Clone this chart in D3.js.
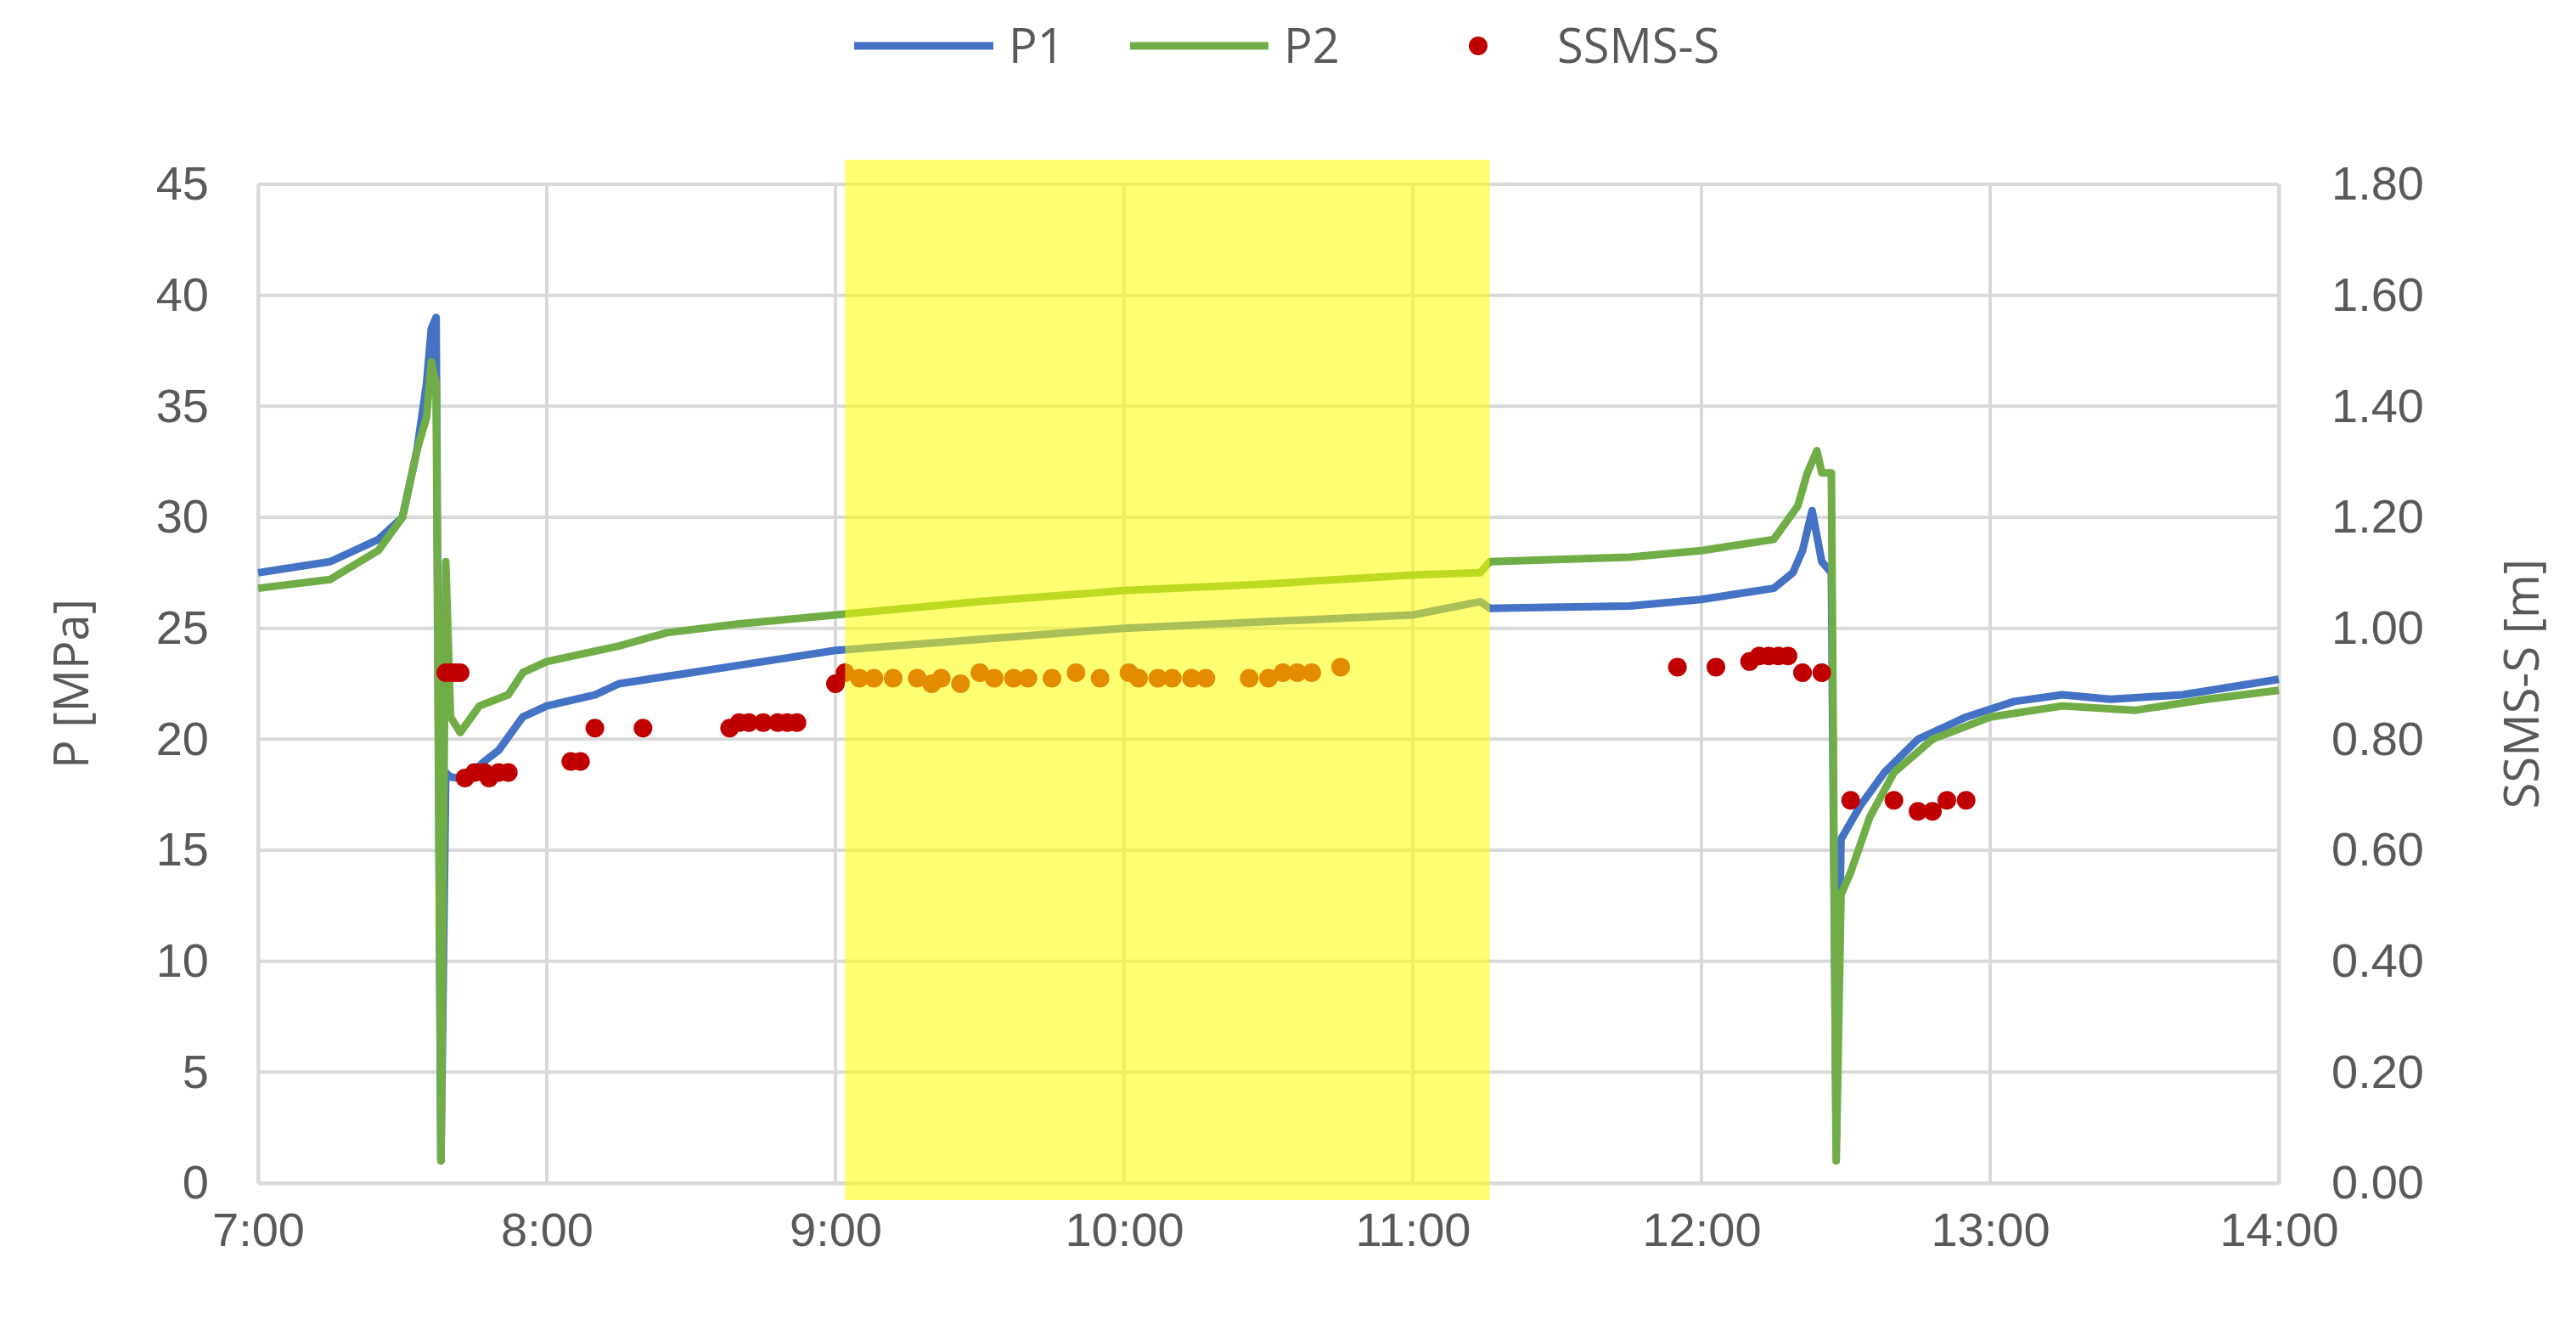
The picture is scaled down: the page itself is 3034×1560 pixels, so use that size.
<!DOCTYPE html>
<html>
<head>
<meta charset="UTF-8">
<script src="https://d3js.org/d3.v7.min.js"></script>
<style>
  body { margin: 0; background: #fff; font-family: "Open Sans", sans-serif; }
  .tick text { fill: #595959; font-size: 56px; }
</style>
</head>
<body>
<svg width="3034" height="1560"></svg>
<script>
// P1 pressure [MPa]
const p1Time = ["7:00","7:15","7:25","7:30","7:33","7:35","7:36","7:37","7:38","7:39","7:40","7:43","7:47","7:50","7:55","8:00","8:10","8:15","8:30","8:45","9:00","9:30","10:00","10:30","11:00","11:14","11:16","11:45","12:00","12:15","12:19","12:21","12:23","12:25","12:27","12:28","12:29","12:33","12:38","12:45","12:55","13:05","13:15","13:25","13:40","14:00"];
const p1Val  = [27.5,28,29,30,33,36,38.5,39,1,18.5,18.3,18.2,19,19.5,21,21.5,22,22.5,23,23.5,24,24.5,25,25.3,25.6,26.2,25.9,26,26.3,26.8,27.5,28.5,30.3,28,27.5,2,15.5,17,18.5,20,21,21.7,22,21.8,22,22.7];
// P2 pressure [MPa]
const p2Time = ["7:00","7:15","7:25","7:30","7:33","7:35","7:36","7:37","7:38","7:39","7:40","7:42","7:46","7:52","7:55","8:00","8:15","8:25","8:40","9:00","9:30","10:00","10:30","11:00","11:14","11:16","11:45","12:00","12:15","12:20","12:22","12:24","12:25","12:27","12:28","12:29","12:31","12:35","12:40","12:48","13:00","13:15","13:30","13:45","14:00"];
const p2Val  = [26.8,27.2,28.5,30,33,34.5,37,36,1,28,21,20.3,21.5,22,23,23.5,24.2,24.8,25.2,25.6,26.2,26.7,27,27.4,27.5,28,28.2,28.5,29,30.5,32,33,32,32,1,13,14,16.5,18.5,20,21,21.5,21.3,21.8,22.2];
// SSMS-S [m]
const sTime = ["7:39","7:40","7:41","7:42","7:43","7:45","7:47","7:48","7:50","7:52","8:05","8:07","8:10","8:20","8:38","8:40","8:42","8:45","8:48","8:50","8:52","9:00","9:02","9:05","9:08","9:12","9:17","9:20","9:22","9:26","9:30","9:33","9:37","9:40","9:45","9:50","9:55","10:01","10:03","10:07","10:10","10:14","10:17","10:26","10:30","10:33","10:36","10:39","10:45","11:55","12:03","12:10","12:12","12:14","12:16","12:18","12:21","12:25","12:31","12:40","12:45","12:48","12:51","12:55"];
const sVal  = [0.92,0.92,0.92,0.92,0.73,0.74,0.74,0.73,0.74,0.74,0.76,0.76,0.82,0.82,0.82,0.83,0.83,0.83,0.83,0.83,0.83,0.90,0.92,0.91,0.91,0.91,0.91,0.90,0.91,0.90,0.92,0.91,0.91,0.91,0.91,0.92,0.91,0.92,0.91,0.91,0.91,0.91,0.91,0.91,0.91,0.92,0.92,0.92,0.93,0.93,0.93,0.94,0.95,0.95,0.95,0.95,0.92,0.92,0.69,0.69,0.67,0.67,0.69,0.69];
const leftTicks = d3.range(0, 46, 5);
const rightTicks = d3.range(0, 1.81, 0.2);
const hourTicks = ["7:00","8:00","9:00","10:00","11:00","12:00","13:00","14:00"];
const band = ["9:02","11:16"];

const parse = d3.timeParse("%H:%M");
const svg = d3.select("svg");
const L = 304, R = 2684, T = 217, B = 1393;

const x = d3.scaleTime().domain([parse("7:00"), parse("14:00")]).range([L, R]);
const yL = d3.scaleLinear().domain([0, 45]).range([B, T]);
const yR = d3.scaleLinear().domain([0, 1.8]).range([B, T]);

// grid
svg.append("g").selectAll("line").data(leftTicks).join("line")
  .attr("x1", L).attr("x2", R).attr("y1", d => yL(d)).attr("y2", d => yL(d))
  .attr("stroke", "#d9d9d9").attr("stroke-width", 4);
svg.append("g").selectAll("line").data(hourTicks).join("line")
  .attr("x1", d => x(parse(d))).attr("x2", d => x(parse(d))).attr("y1", T).attr("y2", B)
  .attr("stroke", "#d9d9d9").attr("stroke-width", 4);

// axes
const fmtNum = d3.format(".2f");
const gx = svg.append("g").attr("transform", `translate(0,${B})`)
  .call(d3.axisBottom(x).tickValues(hourTicks.map(parse)).tickFormat(d3.timeFormat("%-H:%M")).tickSize(0).tickPadding(34));
const gl = svg.append("g").attr("transform", `translate(${L},0)`)
  .call(d3.axisLeft(yL).tickValues(leftTicks).tickSize(0).tickPadding(58));
const gr = svg.append("g").attr("transform", `translate(${R},0)`)
  .call(d3.axisRight(yR).tickValues(rightTicks).tickFormat(fmtNum).tickSize(0).tickPadding(62));
[gx, gl, gr].forEach(g => g.select(".domain").attr("stroke", "#d9d9d9").attr("stroke-width", 4));

// axis titles
svg.append("text").attr("transform", `translate(104,${(T + B) / 2}) rotate(-90)`)
  .attr("text-anchor", "middle").attr("fill", "#595959").attr("font-size", 56).text("P [MPa]");
svg.append("text").attr("transform", `translate(2990,${(T + B) / 2}) rotate(-90)`)
  .attr("text-anchor", "middle").attr("fill", "#595959").attr("font-size", 56).text("SSMS-S [m]");

// lines
const line = d3.line().x(d => x(parse(d[0]))).y(d => yL(d[1]));
svg.append("path").datum(d3.zip(p1Time, p1Val)).attr("d", line)
  .attr("fill", "none").attr("stroke", "#4472c4").attr("stroke-width", 9).attr("stroke-linejoin", "round");
svg.append("path").datum(d3.zip(p2Time, p2Val)).attr("d", line)
  .attr("fill", "none").attr("stroke", "#70ad47").attr("stroke-width", 9).attr("stroke-linejoin", "round");

// dots
svg.append("g").selectAll("circle").data(d3.zip(sTime, sVal)).join("circle")
  .attr("cx", d => x(parse(d[0]))).attr("cy", d => yR(d[1])).attr("r", 11).attr("fill", "#c00000");

// highlight band on top
svg.append("rect").attr("x", x(parse(band[0]))).attr("width", x(parse(band[1])) - x(parse(band[0])))
  .attr("y", 188).attr("height", 1413 - 188).attr("fill", "#ffff00").attr("opacity", 0.55);

// legend
const lg = svg.append("g").attr("font-size", 56).attr("fill", "#595959");
lg.append("line").attr("x1", 1006).attr("x2", 1170).attr("y1", 54).attr("y2", 54).attr("stroke", "#4472c4").attr("stroke-width", 9);
lg.append("text").attr("x", 1188).attr("y", 74).text("P1");
lg.append("line").attr("x1", 1331).attr("x2", 1494).attr("y1", 54).attr("y2", 54).attr("stroke", "#70ad47").attr("stroke-width", 9);
lg.append("text").attr("x", 1512).attr("y", 74).text("P2");
lg.append("circle").attr("cx", 1741).attr("cy", 54).attr("r", 11).attr("fill", "#c00000");
lg.append("text").attr("x", 1834).attr("y", 74).text("SSMS-S");
</script>
</body>
</html>
